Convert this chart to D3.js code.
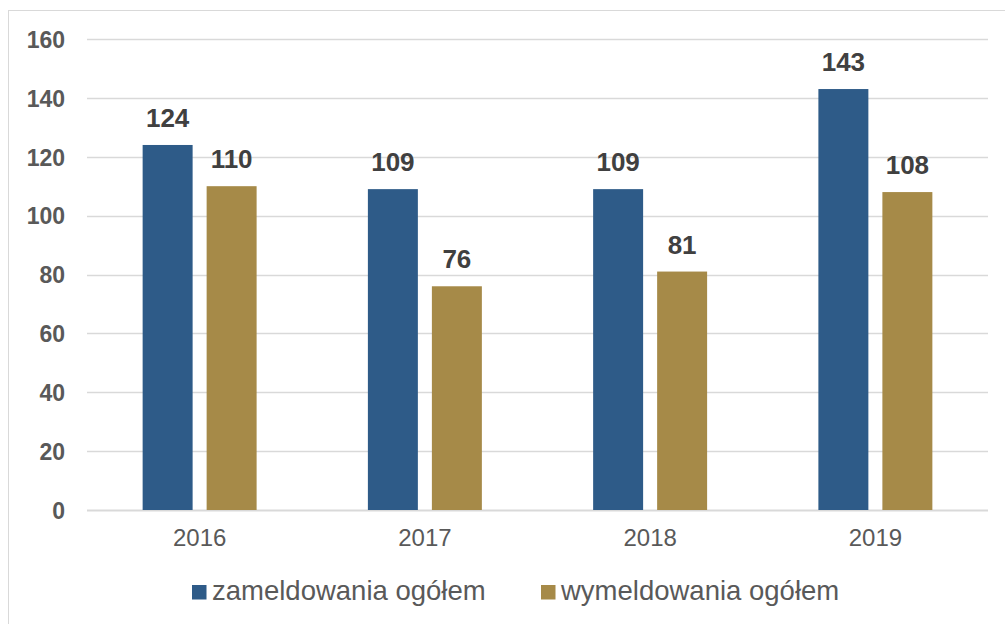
<!DOCTYPE html>
<html>
<head>
<meta charset="utf-8">
<script src="https://cdn.jsdelivr.net/npm/d3@7"></script>
<style>
  body { margin: 0; background: #fff; }
  svg { display: block; font-family: "Liberation Sans", Arial, sans-serif; }
</style>
</head>
<body>
<div id="chart"></div>
<script>
// DATA //
const years = ["2016", "2017", "2018", "2019"]
const seriesNames = ["zameldowania ogółem", "wymeldowania ogółem"]
const zameldowania = [124, 109, 109, 143]
const wymeldowania = [110, 76, 81, 108]
const yTicks = [0, 20, 40, 60, 80, 100, 120, 140, 160]
const colors = ["#2E5B88", "#A68A48"]

const dimensions = {
    width: 1005,
    height: 624,
    margin: { top: 39, right: 17, bottom: 114, left: 87 },
}
dimensions.boundedWidth = dimensions.width - dimensions.margin.left - dimensions.margin.right
dimensions.boundedHeight = dimensions.height - dimensions.margin.top - dimensions.margin.bottom

const dataset = years.map((y, i) => ({
    year: y,
    values: [zameldowania[i], wymeldowania[i]],
}))

const svg = d3.select("#chart")
    .append("svg")
    .attr("width", dimensions.width)
    .attr("height", dimensions.height)

// outer frame
svg.append("rect")
    .attr("x", 8.5)
    .attr("y", 10.5)
    .attr("width", 1010)
    .attr("height", 640)
    .attr("fill", "none")
    .attr("stroke", "#d9d9d9")
    .attr("stroke-width", 1)

const bounds = svg.append("g")
    .attr("transform", `translate(${dimensions.margin.left},${dimensions.margin.top})`)

// scales
const xScale = d3.scaleBand()
    .domain(years)
    .range([0, dimensions.boundedWidth])
    .paddingInner(0.494)
    .paddingOuter(0.247)

const xSub = d3.scaleBand()
    .domain([0, 1])
    .range([0, xScale.bandwidth()])
    .paddingInner(0.219)

const yScale = d3.scaleLinear()
    .domain([0, 160])
    .range([dimensions.boundedHeight, 0])

// gridlines
bounds.append("g")
    .selectAll("line")
    .data(yTicks)
    .join("line")
    .attr("x1", 0)
    .attr("x2", dimensions.boundedWidth)
    .attr("y1", d => Math.round(yScale(d)) + 0.5)
    .attr("y2", d => Math.round(yScale(d)) + 0.5)
    .attr("stroke", "#d9d9d9")
    .attr("stroke-width", d => d == 0 ? 2 : 1.5)

// y axis labels
const yAxisGenerator = d3.axisLeft(yScale).tickValues(yTicks).tickSize(0).tickPadding(22)
const yAxis = bounds.append("g").call(yAxisGenerator)
yAxis.select(".domain").remove()
yAxis.selectAll("text")
    .attr("font-family", "Liberation Sans, Arial, sans-serif")
    .attr("font-size", 23)
    .attr("font-weight", "bold")
    .attr("fill", "#595959")
    .attr("dy", "0.36em")

// x axis labels
const xAxisGenerator = d3.axisBottom(xScale).tickSize(0).tickPadding(19)
const xAxis = bounds.append("g")
    .attr("transform", `translate(0,${dimensions.boundedHeight})`)
    .call(xAxisGenerator)
xAxis.select(".domain").remove()
xAxis.selectAll("text")
    .attr("font-family", "Liberation Sans, Arial, sans-serif")
    .attr("font-size", 24)
    .attr("fill", "#595959")

// bars
const groups = bounds.selectAll(".year")
    .data(dataset)
    .join("g")
    .attr("class", "year")
    .attr("transform", d => `translate(${xScale(d.year)},0)`)

groups.selectAll("rect")
    .data(d => d.values.map((v, i) => ({ v, i })))
    .join("rect")
    .attr("x", d => xSub(d.i))
    .attr("y", d => yScale(d.v))
    .attr("width", xSub.bandwidth())
    .attr("height", d => yScale(0) - yScale(d.v))
    .attr("fill", d => colors[d.i])

groups.selectAll("text")
    .data(d => d.values.map((v, i) => ({ v, i })))
    .join("text")
    .attr("x", d => xSub(d.i) + xSub.bandwidth() / 2)
    .attr("y", d => yScale(d.v) - 18)
    .attr("text-anchor", "middle")
    .attr("font-size", 26)
    .attr("font-weight", "bold")
    .attr("fill", "#404040")
    .text(d => d.v)

// legend
const legendX = [192, 541]
const legend = svg.append("g")
    .selectAll("g")
    .data(seriesNames)
    .join("g")
    .attr("transform", (d, i) => `translate(${legendX[i]},585)`)

legend.append("rect")
    .attr("width", 14.5)
    .attr("height", 14.5)
    .attr("fill", (d, i) => colors[i])

legend.append("text")
    .attr("x", 20)
    .attr("y", 15)
    .attr("font-size", 27.5)
    .attr("fill", "#595959")
    .text(d => d)
</script>
</body>
</html>
